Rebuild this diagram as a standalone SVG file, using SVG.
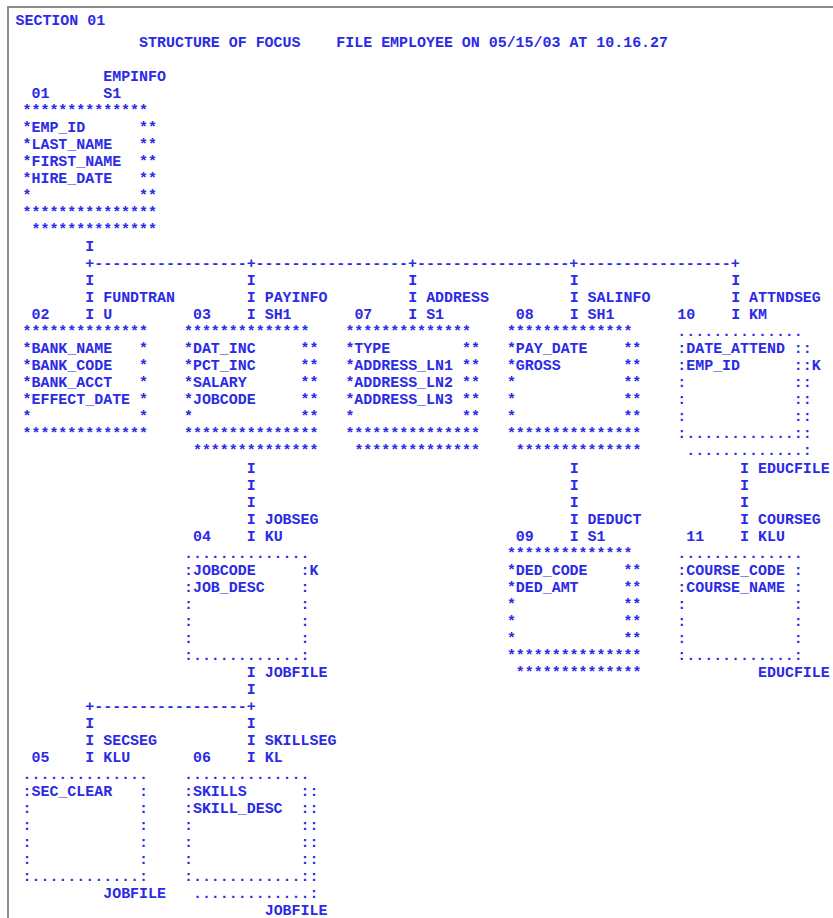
<svg xmlns="http://www.w3.org/2000/svg" width="833" height="918" viewBox="0 0 833 918" xml:space="preserve">
<style>
.t{font-family:"Liberation Mono","DejaVu Sans Mono",monospace;font-size:14.95px;font-weight:bold;fill:#2b2be6;white-space:pre}
.frame{fill:none;stroke:#8c8c8c;stroke-width:2}
</style>
<rect width="833" height="918" fill="#ffffff"/>
<path class="frame" d="M8,918 V7 H833"/>
<g id="header">
<text class="t" x="15.5" y="25">SECTION 01</text>
<text class="t" x="139.11" y="47">STRUCTURE OF FOCUS    FILE EMPLOYEE ON 05/15/03 AT 10.16.27</text>
</g>
<g id="connectors">
<text class="t" x="85.29" y="251.2">I</text>
<text class="t" x="85.29" y="268.2">+-----------------+-----------------+-----------------+-----------------+</text>
<text class="t" x="85.29" y="285.2">I</text><text class="t" x="246.75" y="285.2">I</text><text class="t" x="408.21" y="285.2">I</text><text class="t" x="569.67" y="285.2">I</text><text class="t" x="731.13" y="285.2">I</text>
<text class="t" x="85.29" y="302.3">I</text><text class="t" x="246.75" y="302.3">I</text><text class="t" x="408.21" y="302.3">I</text><text class="t" x="569.67" y="302.3">I</text><text class="t" x="731.13" y="302.3">I</text>
<text class="t" x="85.29" y="319.3">I</text><text class="t" x="246.75" y="319.3">I</text><text class="t" x="408.21" y="319.3">I</text><text class="t" x="569.67" y="319.3">I</text><text class="t" x="731.13" y="319.3">I</text>
<text class="t" x="246.75" y="472.5">I</text><text class="t" x="569.67" y="472.5">I</text><text class="t" x="740.1" y="472.5">I</text>
<text class="t" x="246.75" y="489.5">I</text><text class="t" x="569.67" y="489.5">I</text><text class="t" x="740.1" y="489.5">I</text>
<text class="t" x="246.75" y="506.5">I</text><text class="t" x="569.67" y="506.5">I</text><text class="t" x="740.1" y="506.5">I</text>
<text class="t" x="246.75" y="523.5">I</text><text class="t" x="569.67" y="523.5">I</text><text class="t" x="740.1" y="523.5">I</text>
<text class="t" x="246.75" y="540.5">I</text><text class="t" x="569.67" y="540.5">I</text><text class="t" x="740.1" y="540.5">I</text>
<text class="t" x="246.75" y="676.7">I</text>
<text class="t" x="246.75" y="693.7">I</text>
<text class="t" x="85.29" y="710.7">+-----------------+</text>
<text class="t" x="85.29" y="727.8">I</text><text class="t" x="246.75" y="727.8">I</text>
<text class="t" x="85.29" y="744.8">I</text><text class="t" x="246.75" y="744.8">I</text>
<text class="t" x="85.29" y="761.8">I</text><text class="t" x="246.75" y="761.8">I</text>
</g>
<g id="EMPINFO">
<text class="t" x="103.23" y="81">EMPINFO</text>
<text class="t" x="31.47" y="98">01</text>
<text class="t" x="103.23" y="98">S1</text>
<text class="t" x="22.5" y="115">**************</text>
<text class="t" x="22.5" y="132.1">*EMP_ID      **</text>
<text class="t" x="22.5" y="149.1">*LAST_NAME   **</text>
<text class="t" x="22.5" y="166.1">*FIRST_NAME  **</text>
<text class="t" x="22.5" y="183.1">*HIRE_DATE   **</text>
<text class="t" x="22.5" y="200.1">*            **</text>
<text class="t" x="22.5" y="217.2">***************</text>
<text class="t" x="31.47" y="234.2">**************</text>
</g>
<g id="FUNDTRAN">
<text class="t" x="103.23" y="302.3">FUNDTRAN</text>
<text class="t" x="31.47" y="319.3">02</text>
<text class="t" x="103.23" y="319.3">U</text>
<text class="t" x="22.5" y="336.3">**************</text>
<text class="t" x="22.5" y="353.3">*BANK_NAME   *</text>
<text class="t" x="22.5" y="370.3">*BANK_CODE   *</text>
<text class="t" x="22.5" y="387.4">*BANK_ACCT   *</text>
<text class="t" x="22.5" y="404.4">*EFFECT_DATE *</text>
<text class="t" x="22.5" y="421.4">*            *</text>
<text class="t" x="22.5" y="438.4">**************</text>
</g>
<g id="PAYINFO">
<text class="t" x="264.69" y="302.3">PAYINFO</text>
<text class="t" x="192.93" y="319.3">03</text>
<text class="t" x="264.69" y="319.3">SH1</text>
<text class="t" x="183.96" y="336.3">**************</text>
<text class="t" x="183.96" y="353.3">*DAT_INC     **</text>
<text class="t" x="183.96" y="370.3">*PCT_INC     **</text>
<text class="t" x="183.96" y="387.4">*SALARY      **</text>
<text class="t" x="183.96" y="404.4">*JOBCODE     **</text>
<text class="t" x="183.96" y="421.4">*            **</text>
<text class="t" x="183.96" y="438.4">***************</text>
<text class="t" x="192.93" y="455.4">**************</text>
</g>
<g id="ADDRESS">
<text class="t" x="426.15" y="302.3">ADDRESS</text>
<text class="t" x="354.39" y="319.3">07</text>
<text class="t" x="426.15" y="319.3">S1</text>
<text class="t" x="345.42" y="336.3">**************</text>
<text class="t" x="345.42" y="353.3">*TYPE        **</text>
<text class="t" x="345.42" y="370.3">*ADDRESS_LN1 **</text>
<text class="t" x="345.42" y="387.4">*ADDRESS_LN2 **</text>
<text class="t" x="345.42" y="404.4">*ADDRESS_LN3 **</text>
<text class="t" x="345.42" y="421.4">*            **</text>
<text class="t" x="345.42" y="438.4">***************</text>
<text class="t" x="354.39" y="455.4">**************</text>
</g>
<g id="SALINFO">
<text class="t" x="587.61" y="302.3">SALINFO</text>
<text class="t" x="515.85" y="319.3">08</text>
<text class="t" x="587.61" y="319.3">SH1</text>
<text class="t" x="506.88" y="336.3">**************</text>
<text class="t" x="506.88" y="353.3">*PAY_DATE    **</text>
<text class="t" x="506.88" y="370.3">*GROSS       **</text>
<text class="t" x="506.88" y="387.4">*            **</text>
<text class="t" x="506.88" y="404.4">*            **</text>
<text class="t" x="506.88" y="421.4">*            **</text>
<text class="t" x="506.88" y="438.4">***************</text>
<text class="t" x="515.85" y="455.4">**************</text>
</g>
<g id="ATTNDSEG">
<text class="t" x="749.07" y="302.3">ATTNDSEG</text>
<text class="t" x="677.31" y="319.3">10</text>
<text class="t" x="749.07" y="319.3">KM</text>
<text class="t" x="677.31" y="336.3">..............</text>
<text class="t" x="677.31" y="353.3">:DATE_ATTEND ::</text>
<text class="t" x="677.31" y="370.3">:EMP_ID      ::K</text>
<text class="t" x="677.31" y="387.4">:            ::</text>
<text class="t" x="677.31" y="404.4">:            ::</text>
<text class="t" x="677.31" y="421.4">:            ::</text>
<text class="t" x="677.31" y="438.4">:............::</text>
<text class="t" x="686.28" y="455.4">.............:</text>
</g>
<g id="JOBSEG">
<text class="t" x="264.69" y="523.5">JOBSEG</text>
<text class="t" x="192.93" y="540.5">04</text>
<text class="t" x="264.69" y="540.5">KU</text>
<text class="t" x="183.96" y="557.6">..............</text>
<text class="t" x="183.96" y="574.6">:JOBCODE     :K</text>
<text class="t" x="183.96" y="591.6">:JOB_DESC    :</text>
<text class="t" x="183.96" y="608.6">:            :</text>
<text class="t" x="183.96" y="625.6">:            :</text>
<text class="t" x="183.96" y="642.7">:            :</text>
<text class="t" x="183.96" y="659.7">:............:</text>
<text class="t" x="264.69" y="676.7">JOBFILE</text>
</g>
<g id="DEDUCT">
<text class="t" x="587.61" y="523.5">DEDUCT</text>
<text class="t" x="515.85" y="540.5">09</text>
<text class="t" x="587.61" y="540.5">S1</text>
<text class="t" x="506.88" y="557.6">**************</text>
<text class="t" x="506.88" y="574.6">*DED_CODE    **</text>
<text class="t" x="506.88" y="591.6">*DED_AMT     **</text>
<text class="t" x="506.88" y="608.6">*            **</text>
<text class="t" x="506.88" y="625.6">*            **</text>
<text class="t" x="506.88" y="642.7">*            **</text>
<text class="t" x="506.88" y="659.7">***************</text>
<text class="t" x="515.85" y="676.7">**************</text>
</g>
<g id="COURSEG">
<text class="t" x="758.04" y="472.5">EDUCFILE</text>
<text class="t" x="758.04" y="523.5">COURSEG</text>
<text class="t" x="686.28" y="540.5">11</text>
<text class="t" x="758.04" y="540.5">KLU</text>
<text class="t" x="677.31" y="557.6">..............</text>
<text class="t" x="677.31" y="574.6">:COURSE_CODE :</text>
<text class="t" x="677.31" y="591.6">:COURSE_NAME :</text>
<text class="t" x="677.31" y="608.6">:            :</text>
<text class="t" x="677.31" y="625.6">:            :</text>
<text class="t" x="677.31" y="642.7">:            :</text>
<text class="t" x="677.31" y="659.7">:............:</text>
<text class="t" x="758.04" y="676.7">EDUCFILE</text>
</g>
<g id="SECSEG">
<text class="t" x="103.23" y="744.8">SECSEG</text>
<text class="t" x="31.47" y="761.8">05</text>
<text class="t" x="103.23" y="761.8">KLU</text>
<text class="t" x="22.5" y="778.8">..............</text>
<text class="t" x="22.5" y="795.8">:SEC_CLEAR   :</text>
<text class="t" x="22.5" y="812.9">:            :</text>
<text class="t" x="22.5" y="829.9">:            :</text>
<text class="t" x="22.5" y="846.9">:            :</text>
<text class="t" x="22.5" y="863.9">:            :</text>
<text class="t" x="22.5" y="880.9">:............:</text>
<text class="t" x="103.23" y="898">JOBFILE</text>
</g>
<g id="SKILLSEG">
<text class="t" x="264.69" y="744.8">SKILLSEG</text>
<text class="t" x="192.93" y="761.8">06</text>
<text class="t" x="264.69" y="761.8">KL</text>
<text class="t" x="183.96" y="778.8">..............</text>
<text class="t" x="183.96" y="795.8">:SKILLS      ::</text>
<text class="t" x="183.96" y="812.9">:SKILL_DESC  ::</text>
<text class="t" x="183.96" y="829.9">:            ::</text>
<text class="t" x="183.96" y="846.9">:            ::</text>
<text class="t" x="183.96" y="863.9">:            ::</text>
<text class="t" x="183.96" y="880.9">:............::</text>
<text class="t" x="192.93" y="898">.............:</text>
<text class="t" x="264.69" y="915">JOBFILE</text>
</g>
</svg>
